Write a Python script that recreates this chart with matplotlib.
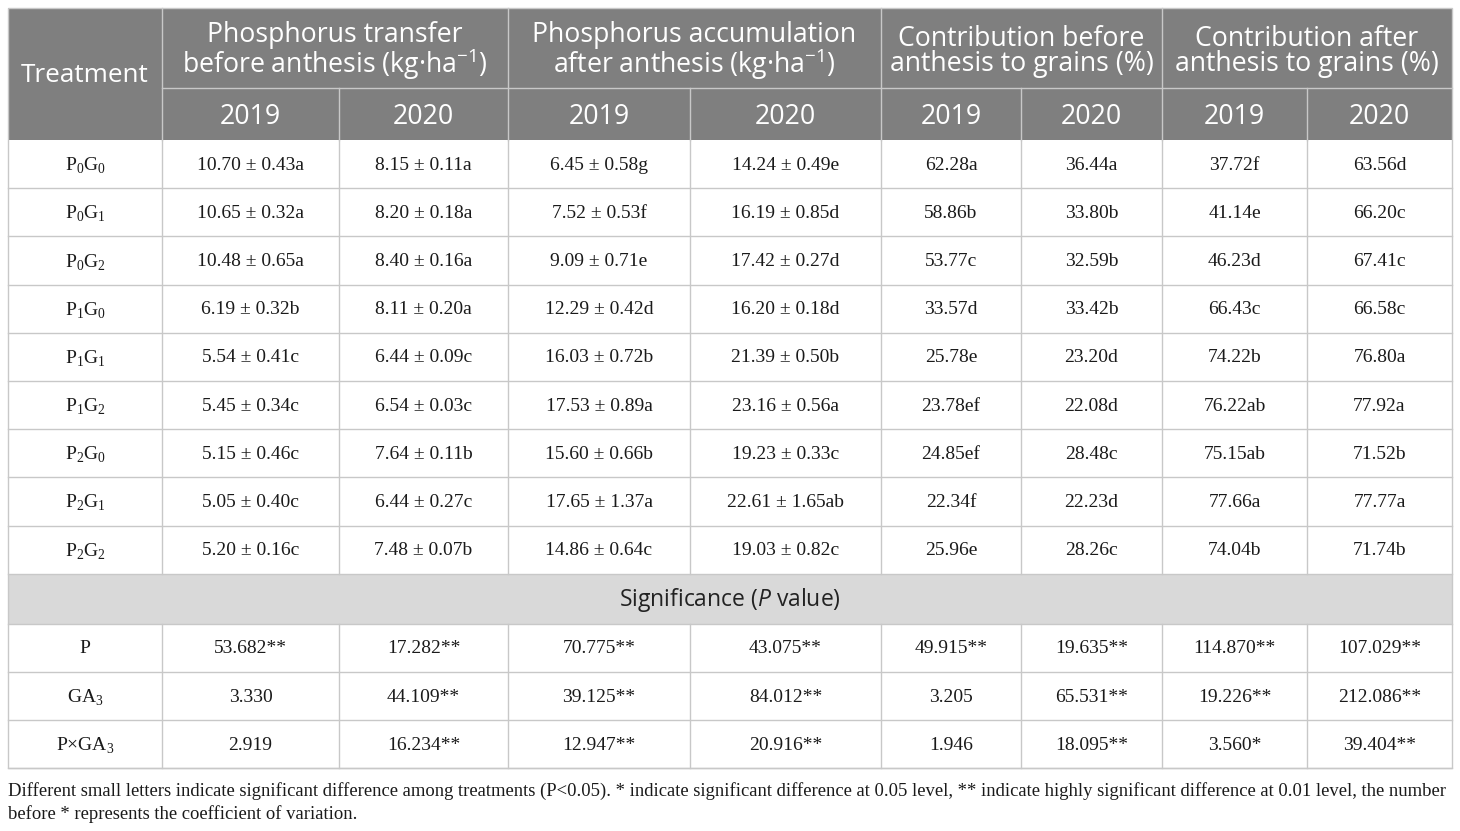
import matplotlib.pyplot as plt
from matplotlib.patches import Rectangle

# 수식 글꼴: 본문 아래첨자는 serif, 헤더는 sans
plt.rcParams['mathtext.fontset'] = 'custom'
plt.rcParams['mathtext.rm'] = 'Liberation Serif'
plt.rcParams['mathtext.it'] = 'Open Sans:italic'
plt.rcParams['mathtext.sf'] = 'Open Sans'

# 표 데이터
treatments = ['P$_\\mathrm{0}$G$_\\mathrm{0}$', 'P$_\\mathrm{0}$G$_\\mathrm{1}$', 'P$_\\mathrm{0}$G$_\\mathrm{2}$',
              'P$_\\mathrm{1}$G$_\\mathrm{0}$', 'P$_\\mathrm{1}$G$_\\mathrm{1}$', 'P$_\\mathrm{1}$G$_\\mathrm{2}$',
              'P$_\\mathrm{2}$G$_\\mathrm{0}$', 'P$_\\mathrm{2}$G$_\\mathrm{1}$', 'P$_\\mathrm{2}$G$_\\mathrm{2}$']
transfer_2019 = ['10.70 ± 0.43a', '10.65 ± 0.32a', '10.48 ± 0.65a', '6.19 ± 0.32b', '5.54 ± 0.41c',
                 '5.45 ± 0.34c', '5.15 ± 0.46c', '5.05 ± 0.40c', '5.20 ± 0.16c']
transfer_2020 = ['8.15 ± 0.11a', '8.20 ± 0.18a', '8.40 ± 0.16a', '8.11 ± 0.20a', '6.44 ± 0.09c',
                 '6.54 ± 0.03c', '7.64 ± 0.11b', '6.44 ± 0.27c', '7.48 ± 0.07b']
accum_2019 = ['6.45 ± 0.58g', '7.52 ± 0.53f', '9.09 ± 0.71e', '12.29 ± 0.42d', '16.03 ± 0.72b',
              '17.53 ± 0.89a', '15.60 ± 0.66b', '17.65 ± 1.37a', '14.86 ± 0.64c']
accum_2020 = ['14.24 ± 0.49e', '16.19 ± 0.85d', '17.42 ± 0.27d', '16.20 ± 0.18d', '21.39 ± 0.50b',
              '23.16 ± 0.56a', '19.23 ± 0.33c', '22.61 ± 1.65ab', '19.03 ± 0.82c']
before_2019 = ['62.28a', '58.86b', '53.77c', '33.57d', '25.78e', '23.78ef', '24.85ef', '22.34f', '25.96e']
before_2020 = ['36.44a', '33.80b', '32.59b', '33.42b', '23.20d', '22.08d', '28.48c', '22.23d', '28.26c']
after_2019 = ['37.72f', '41.14e', '46.23d', '66.43c', '74.22b', '76.22ab', '75.15ab', '77.66a', '74.04b']
after_2020 = ['63.56d', '66.20c', '67.41c', '66.58c', '76.80a', '77.92a', '71.52b', '77.77a', '71.74b']

sig_factors = ['P', 'GA$_\\mathrm{3}$', 'P×GA$_\\mathrm{3}$']
sig_values = [
    ['53.682**', '17.282**', '70.775**', '43.075**', '49.915**', '19.635**', '114.870**', '107.029**'],
    ['3.330', '44.109**', '39.125**', '84.012**', '3.205', '65.531**', '19.226**', '212.086**'],
    ['2.919', '16.234**', '12.947**', '20.916**', '1.946', '18.095**', '3.560*', '39.404**'],
]

group_titles = ['Phosphorus transfer\nbefore anthesis (kg·ha$^{\\mathsf{-1}}$)',
                'Phosphorus accumulation\nafter anthesis (kg·ha$^{\\mathsf{-1}}$)',
                'Contribution before\nanthesis to grains (%)',
                'Contribution after\nanthesis to grains (%)']
years = ['2019', '2020']

footnote = ('Different small letters indicate significant difference among treatments (P<0.05). * indicate '
            'significant difference at 0.05 level, ** indicate highly significant difference at 0.01 level, the number\n'
            'before * represents the coefficient of variation.')

# 레이아웃 (픽셀 좌표)
W, H = 1460, 831
col_x = [8, 162, 339, 508, 690, 881, 1021, 1162, 1307, 1452]
head1 = (8, 88)
head2 = (88, 140)
row_top = 140
row_h = 48.2
sig_h = 50

header_bg = '#7f7f7f'
sig_bg = '#d9d9d9'
line_c = '#c8c8c8'
text_c = '#1a1a1a'
serif = ['Liberation Serif', 'DejaVu Serif']
sans = ['Open Sans', 'DejaVu Sans']
head_fs = 19.2

fig = plt.figure(figsize=(W / 100, H / 100), dpi=100)
ax = fig.add_axes([0, 0, 1, 1])
ax.set_xlim(0, W)
ax.set_ylim(H, 0)
ax.axis('off')

# 헤더 배경
ax.add_patch(Rectangle((col_x[0], head1[0]), col_x[-1] - col_x[0], head2[1] - head1[0],
                       facecolor=header_bg, edgecolor='none'))

ax.text((col_x[0] + col_x[1]) / 2, (head1[0] + head2[1]) / 2 + 2, 'Treatment',
        ha='center', va='center', color='white', fontsize=18.8, family=sans)
for g, title in enumerate(group_titles):
    x0, x1 = col_x[1 + 2 * g], col_x[3 + 2 * g]
    ax.text((x0 + x1) / 2, (head1[0] + head1[1]) / 2 + 3.5, title, ha='center', va='center',
            color='white', fontsize=head_fs, family=sans, linespacing=0.9)
    for k, yr in enumerate(years):
        a, b = col_x[1 + 2 * g + k], col_x[2 + 2 * g + k]
        ax.text((a + b) / 2, (head2[0] + head2[1]) / 2 + 2.5, yr, ha='center', va='center',
                color='white', fontsize=head_fs, family=sans)

# 헤더 구분선
for x in col_x[1:-1]:
    y0 = head1[0] if x in col_x[1::2] else head2[0]
    ax.plot([x, x], [y0, head2[1]], color=line_c, lw=1)
ax.plot([col_x[1], col_x[-1]], [head2[0], head2[0]], color=line_c, lw=1)

# 데이터 행
columns = [transfer_2019, transfer_2020, accum_2019, accum_2020,
           before_2019, before_2020, after_2019, after_2020]
y = row_top
for i, name in enumerate(treatments):
    cells = [name] + [c[i] for c in columns]
    for j, txt in enumerate(cells):
        ax.text((col_x[j] + col_x[j + 1]) / 2, y + row_h / 2 + 1, txt, ha='center', va='center',
                fontsize=14, family=serif, color=text_c)
    y += row_h
    ax.plot([col_x[0], col_x[-1]], [y, y], color=line_c, lw=1)

# 유의성 행
sig_top = y
ax.add_patch(Rectangle((col_x[0], sig_top), col_x[-1] - col_x[0], sig_h,
                       facecolor=sig_bg, edgecolor='none'))
ax.text((col_x[0] + col_x[-1]) / 2, sig_top + sig_h / 2 + 1, 'Significance ($\\mathit{P}$ value)',
        ha='center', va='center', fontsize=16.5, family=sans, color='#222222')
y = sig_top + sig_h
ax.plot([col_x[0], col_x[-1]], [y, y], color=line_c, lw=1)
for i, name in enumerate(sig_factors):
    cells = [name] + sig_values[i]
    for j, txt in enumerate(cells):
        ax.text((col_x[j] + col_x[j + 1]) / 2, y + row_h / 2 + 1, txt, ha='center', va='center',
                fontsize=14, family=serif, color=text_c)
    y += row_h
    ax.plot([col_x[0], col_x[-1]], [y, y], color=line_c, lw=1)
bottom = y

# 세로선
for x in col_x[1:-1]:
    ax.plot([x, x], [row_top, sig_top], color=line_c, lw=1)
    ax.plot([x, x], [sig_top + sig_h, bottom], color=line_c, lw=1)
ax.add_patch(Rectangle((col_x[0], head1[0]), col_x[-1] - col_x[0], bottom - head1[0],
                       facecolor='none', edgecolor=line_c, lw=1))

ax.text(col_x[0], bottom + 13.5, footnote, ha='left', va='top', fontsize=13.42, family=serif,
        color=text_c, linespacing=1.36)

fig.savefig('out.png', dpi=100, facecolor='white')
